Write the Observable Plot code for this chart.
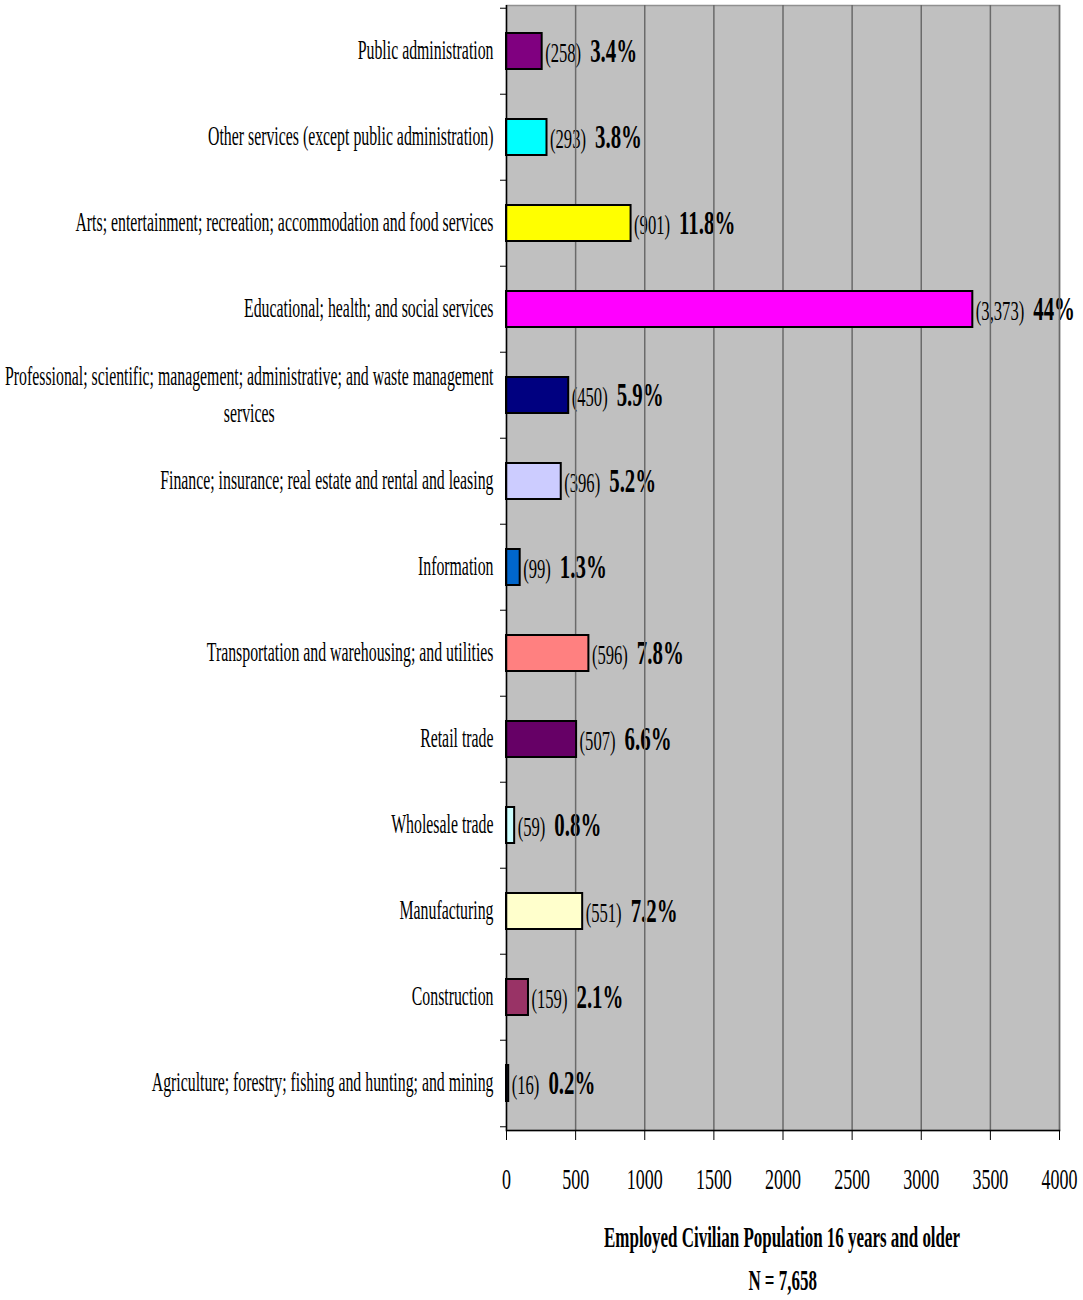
<!DOCTYPE html>
<html><head><meta charset="utf-8">
<script src="https://cdn.jsdelivr.net/npm/d3@7"></script>
<script src="https://cdn.jsdelivr.net/npm/@observablehq/plot@0.6"></script>
<style>
body{margin:0;background:#fff;font-family:"Liberation Serif","Times New Roman",serif;color:#000;}
.tl{margin-left:506px;width:553px;display:flex;justify-content:center;font-weight:bold;font-size:30px;line-height:43px;}
.tl span{display:inline-block;transform:scaleX(0.565);white-space:nowrap;flex:none;}
#title{margin-top:15px;}
</style></head><body>
<div id="chart"></div>
<div id="title"></div>
<script>
const categories = [
  "Public administration",
  "Other services (except public administration)",
  "Arts; entertainment; recreation; accommodation and food services",
  "Educational; health; and social services",
  "Professional; scientific; management; administrative; and waste management services",
  "Finance; insurance; real estate and rental and leasing",
  "Information",
  "Transportation and warehousing; and utilities",
  "Retail trade",
  "Wholesale trade",
  "Manufacturing",
  "Construction",
  "Agriculture; forestry; fishing and hunting; and mining"
];
const tickLabels = [
  "Public administration",
  "Other services (except public administration)",
  "Arts; entertainment; recreation; accommodation and food services",
  "Educational; health; and social services",
  "Professional; scientific; management; administrative; and waste management\nservices",
  "Finance; insurance; real estate and rental and leasing",
  "Information",
  "Transportation and warehousing; and utilities",
  "Retail trade",
  "Wholesale trade",
  "Manufacturing",
  "Construction",
  "Agriculture; forestry; fishing and hunting; and mining"
];
const counts = [258, 293, 901, 3373, 450, 396, 99, 596, 507, 59, 551, 159, 16];
const percents = ["3.4%", "3.8%", "11.8%", "44%", "5.9%", "5.2%", "1.3%", "7.8%", "6.6%", "0.8%", "7.2%", "2.1%", "0.2%"];
const colors = ["#800080", "#00FFFF", "#FFFF00", "#FF00FF", "#000080", "#CCCCFF", "#0066CC", "#FF8080", "#660066", "#CCFFFF", "#FFFFCC", "#993366", "#333366"];
const xTicks = [0, 500, 1000, 1500, 2000, 2500, 3000, 3500, 4000];
const titleLines = ["Employed Civilian Population 16 years and older", "N = 7,658"];

const data = categories.map((c, i) => ({category: c, count: counts[i], pct: percents[i], color: colors[i]}));

const W = 1083, H = 1200, mt = 5, mb = 70, ml = 506, mr = 24;
const step = (H - mt - mb) / categories.length;
const fmt = d3.format(",");

const chart = Plot.plot({
  width: W, height: H,
  marginTop: mt, marginBottom: mb, marginLeft: ml, marginRight: mr,
  style: {fontFamily: "'Liberation Serif', 'Times New Roman', serif", background: "#fff", color: "#000"},
  x: {domain: [0, 4000]},
  y: {domain: categories, paddingInner: 0.58, paddingOuter: 0.29},
  color: {type: "identity"},
  marks: [
    Plot.frame({fill: "#c0c0c0", stroke: "#909090", strokeWidth: 1.5}),
    Plot.text(data, {x: "count", y: "category", text: d => `(${fmt(d.count)})`, textAnchor: "start", dx: 3, dy: 2, fontSize: 27, fill: "#000"}),
    Plot.text(data, {x: "count", y: "category", text: "pct", textAnchor: "start", dx: 3, dy: 0, fontSize: 34, fontWeight: "bold", fill: "#000"}),
    Plot.ruleX(xTicks.slice(1), {stroke: "#6a6a6a", strokeWidth: 1.5}),
    Plot.barX(data, {x: "count", y: "category", fill: "color", stroke: "#000", strokeWidth: 2}),
    Plot.ruleX([0], {stroke: "#000", strokeWidth: 1.5}),
    Plot.frame({anchor: "bottom", stroke: "#000", strokeWidth: 1.5}),
    Plot.axisX({ticks: xTicks, tickSize: 10, tickPadding: 27, fontSize: 30, tickFormat: d3.format("d"), label: null, stroke: "#000"}),
    Plot.axisY({tickSize: 0, tickPadding: 13, fontSize: 28, lineHeight: 1.32, dy: -4, tickFormat: d => tickLabels[categories.indexOf(d)], label: null}),
    Plot.axisY({tickSize: 6, text: null, dy: -step / 2, label: null, stroke: "#000"}),
    Plot.axisY({ticks: [categories[categories.length - 1]], tickSize: 6, text: null, dy: step / 2, label: null, stroke: "#000"})
  ]
});
document.getElementById("chart").append(chart);

// condensed (narrow) type like the original
const textGroups = [...chart.querySelectorAll('g[aria-label="text"]')];
const countTexts = textGroups[0] ? [...textGroups[0].querySelectorAll("text")] : [];
const pctTexts = textGroups[1] ? [...textGroups[1].querySelectorAll("text")] : [];
const xTickTexts = [...chart.querySelectorAll('g[aria-label="x-axis tick label"] text')];
const fCount = 0.615, fPct = 0.614, fX = 0.6, fY = 0.565;
const countW = countTexts.map(t => t.getComputedTextLength() * fCount);
chart.querySelectorAll("text").forEach(t => {
  let s = fY;
  if (countTexts.includes(t)) s = fCount;
  else if (pctTexts.includes(t)) s = fPct;
  else if (xTickTexts.includes(t)) s = fX;
  let tr = t.getAttribute("transform") || "";
  if (!tr) {
    const x = parseFloat(t.getAttribute("x")) || 0;
    t.setAttribute("x", 0);
    tr = `translate(${x},0)`;
  }
  const pi = pctTexts.indexOf(t);
  if (pi >= 0) tr += ` translate(${countW[pi] + 9},0)`;
  tr += ` scale(${s},1)`;
  const tspans = t.querySelectorAll("tspan");
  if (tspans.length > 1) {
    const w = Math.max(...[...tspans].map(ts => ts.getComputedTextLength()));
    t.setAttribute("text-anchor", "middle");
    tr += ` translate(${-w / 2},0)`;
  }
  t.setAttribute("transform", tr);
});

const title = document.getElementById("title");
titleLines.forEach(line => {
  const div = document.createElement("div");
  div.className = "tl";
  const span = document.createElement("span");
  span.textContent = line;
  div.append(span);
  title.append(div);
});
</script>
</body></html>
